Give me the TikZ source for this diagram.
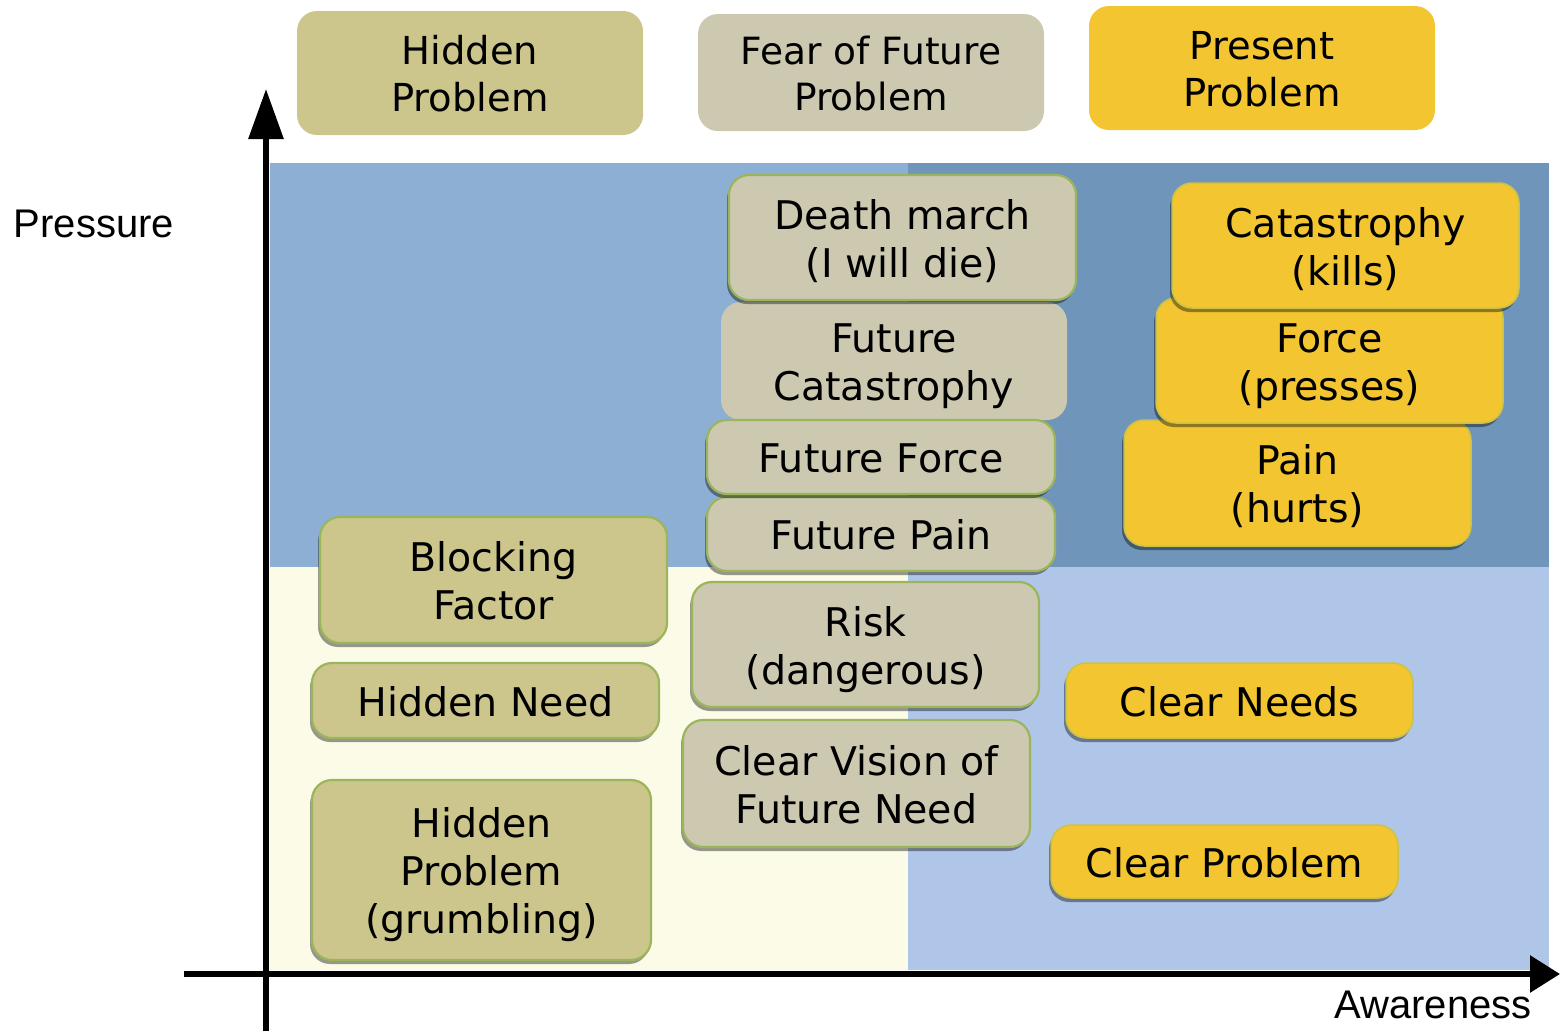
\documentclass[tikz,border=0pt]{standalone}
\usepackage{fontspec}
\setmainfont{DejaVu Sans}
\newfontfamily\arialfont{Liberation Sans}
\usetikzlibrary{arrows.meta,shadows}
\definecolor{olivebox}{HTML}{CCC68D}
\definecolor{beigebox}{HTML}{CDC9B1}
\definecolor{yellowbox}{HTML}{F2C531}
\definecolor{greenline}{HTML}{9BB65A}
\definecolor{yellowline}{HTML}{C9C447}
\definecolor{qtl}{HTML}{8EAFD4}
\definecolor{qtr}{HTML}{7095BA}
\definecolor{qbl}{HTML}{FCFBE7}
\definecolor{qbr}{HTML}{B0C6E8}
\newcommand\mlines[1]{\raisebox{-6pt}[\height][\depth]{\begin{tabular}{@{}c@{}}#1\end{tabular}}}
\begin{document}
\begin{tikzpicture}[x=1pt,y=-1pt,
  box/.style={rounded corners=20pt, inner sep=0pt,
    font=\fontsize{39.5}{48}\selectfont},
  head/.style={box, font=\fontsize{38.5}{47}\selectfont},
  shad/.style={drop shadow={shadow xshift=-2pt, shadow yshift=-4pt, fill=black, opacity=0.4}},
  olivegrid/.style={box, shad, fill=olivebox, draw=greenline, line width=2.2pt},
  beigegrid/.style={box, shad, fill=beigebox, draw=greenline, line width=2.2pt},
  beigeplain/.style={box, fill=beigebox},
  yellowgrid/.style={box, shad, fill=yellowbox, draw=yellowline, line width=1.5pt},
  axis/.style={line width=6pt},
  axlabel/.style={font=\arialfont\fontsize{40}{47}\selectfont, inner sep=0pt}
]
\useasboundingbox (0,0) rectangle (1560,1031);
% quadrants
\fill[qtl] (270,163) rectangle (908,567);
\fill[qtr] (908,163) rectangle (1549,567);
\fill[qbl] (270,567) rectangle (908,970);
\fill[qbr] (908,567) rectangle (1549,970);

% header boxes
\node[head, fill=olivebox, minimum width=346pt, minimum height=124pt] (hp) at (470,73) {\mlines{Hidden\\Problem}};
\node[head, fill=beigebox, minimum width=346pt, minimum height=117pt, font=\fontsize{37.5}{46}\selectfont] (ffp) at (871,72.5) {\mlines{Fear of Future\\Problem}};
\node[head, fill=yellowbox, minimum width=346pt, minimum height=124pt] (pp) at (1262,68) {\mlines{Present\\Problem}};

% middle column
\node[beigeplain, minimum width=346pt, minimum height=118pt] (fc) at (894,361) {\mlines{Future\\Catastrophy}};
\node[beigegrid, minimum width=347pt, minimum height=125pt] (dm) at (902.5,237.5) {\mlines{Death march\\(I will die)}};
\node[beigegrid, minimum width=348pt, minimum height=74pt] (fpain) at (881,534) {\mlines{Future Pain}};
\node[beigegrid, minimum width=348pt, minimum height=74pt] (fforce) at (881,457) {\mlines{Future Force}};
\node[beigegrid, minimum width=347pt, minimum height=125pt] (risk) at (865.5,644.5) {\mlines{Risk\\(dangerous)}};
\node[beigegrid, minimum width=347pt, minimum height=127pt] (cvfn) at (856.5,783.5) {\mlines{Clear Vision of\\Future Need}};

% left column
\node[olivegrid, minimum width=347pt, minimum height=126pt] (bf) at (493.5,580) {\mlines{Blocking\\Factor}};
\node[olivegrid, minimum width=347pt, minimum height=75pt] (hn) at (485.5,700.5) {\mlines{Hidden Need}};
\node[olivegrid, minimum width=339pt, minimum height=180pt] (hpg) at (481.5,870) {\mlines{Hidden\\Problem\\(grumbling)}};

% right column
\node[yellowgrid, minimum width=347pt, minimum height=126pt] (pain) at (1297.5,483) {\mlines{Pain\\(hurts)}};
\node[yellowgrid, minimum width=347pt, minimum height=125pt] (force) at (1329.5,360.5) {\mlines{Force\\(presses)}};
\node[yellowgrid, minimum width=347pt, minimum height=125pt] (cat) at (1345.5,245.5) {\mlines{Catastrophy\\(kills)}};
\node[yellowgrid, minimum width=347pt, minimum height=75pt] (cn) at (1239.5,700.5) {\mlines{Clear Needs}};
\node[yellowgrid, minimum width=347pt, minimum height=73pt] (cp) at (1224.5,861.5) {\mlines{Clear Problem}};

% axes
\coordinate (ybot) at (266,1031);
\coordinate (ytop) at (266,89);
\coordinate (xleft) at (184,974);
\coordinate (xright) at (1560,974);
\draw[axis, -{Triangle[width=34pt,length=50pt]}] (ybot) -- (ytop);
\draw[axis, -{Triangle[width=36pt,length=30pt]}] (xleft) -- (xright);

\node[axlabel] (pressure) at (94,224) {Pressure};
\node[axlabel] (awareness) at (1433,1005) {Awareness};
\end{tikzpicture}
\end{document}
